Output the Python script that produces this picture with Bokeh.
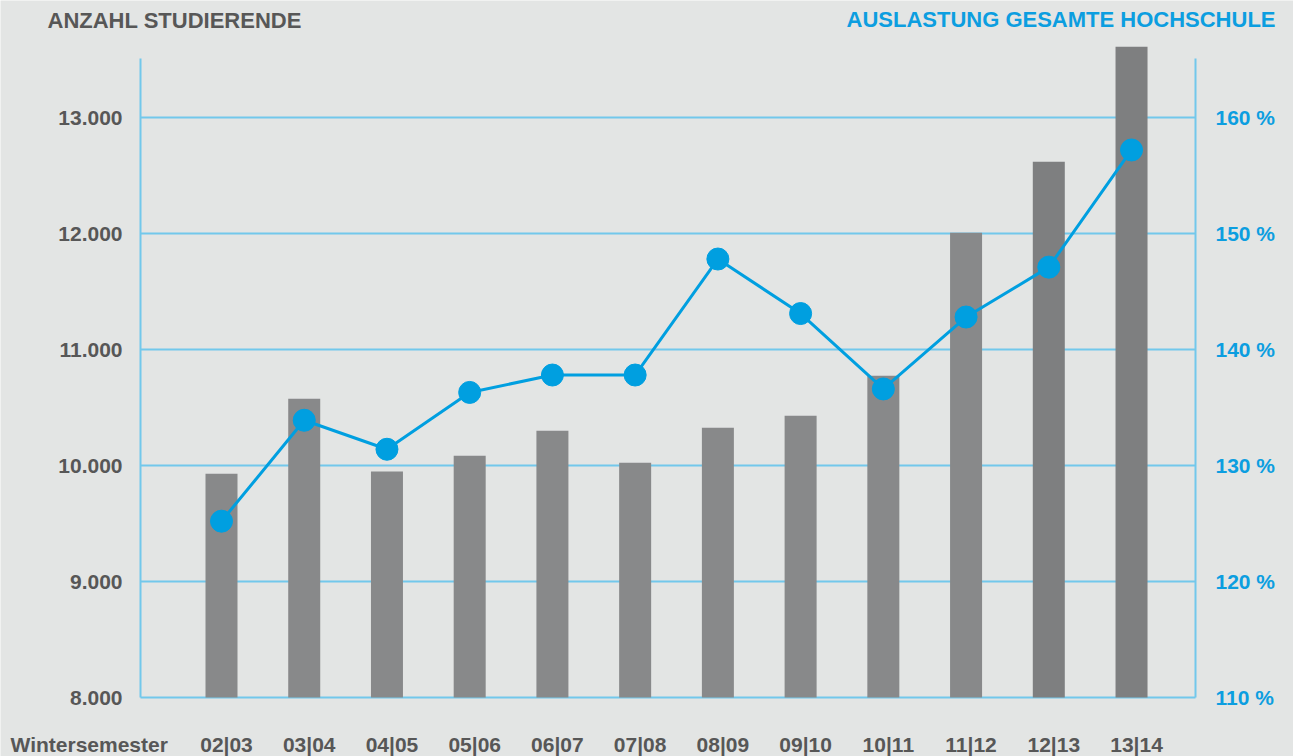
from bokeh.plotting import figure
from bokeh.models import Range1d
from bokeh.core.properties import value
from bokeh.embed import file_html
from bokeh.resources import INLINE

# ---------------- data ----------------
semesters = ["02|03", "03|04", "04|05", "05|06", "06|07", "07|08",
             "08|09", "09|10", "10|11", "11|12", "12|13", "13|14"]
students = [9928, 10575, 9948, 10084, 10299, 10023,
            10325, 10428, 10773, 12006, 12618, 13609]
utilization = [125.2, 133.9, 131.4, 136.3, 137.8, 137.8,
               147.8, 143.1, 136.6, 142.8, 147.1, 157.2]
left_ticks = [8000, 9000, 10000, 11000, 12000, 13000]
left_tick_labels = ["8.000", "9.000", "10.000", "11.000", "12.000", "13.000"]
right_ticks = [110, 120, 130, 140, 150, 160]
right_tick_labels = ["110 %", "120 %", "130 %", "140 %", "150 %", "160 %"]
left_title = "ANZAHL STUDIERENDE"
right_title = "AUSLASTUNG GESAMTE HOCHSCHULE"
x_title = "Wintersemester"

# ---------------- styles ----------------
BG = "#e3e5e4"
GRID = "#72c8eb"
BLUE = "#009fe0"
GRAY_TXT = "#575757"
BLUE_TXT = "#0c9ee0"
bar_colors = ["#88898a"] * 10 + ["#7e7f80"] * 2
FONT = value("Liberation Sans")

# canvas-pixel -> data helpers
X0_PX, DX_PX = 221.0, 82.73        # first bar centre, spacing between bars
Y0_PX, DY_PX = 697.0, 0.116        # y pixel of 8000, pixels per student

def px_x(px):
    return (px - X0_PX) / DX_PX

def px_y(py):
    return 8000 + (Y0_PX - py) / DY_PX

def px_pct(py):
    return 110 + (Y0_PX - py) / (DY_PX * 100)

W, H = 1293, 756
idx = list(range(len(semesters)))

p = figure(width=W, height=H, output_backend="svg", toolbar_location=None,
           x_range=Range1d(px_x(0), px_x(W)),
           y_range=Range1d(px_y(H), px_y(0)),
           x_axis_location=None, y_axis_location=None,
           min_border_left=0, min_border_right=0,
           min_border_top=0, min_border_bottom=0,
           background_fill_color=BG, border_fill_color=BG,
           outline_line_color=None)
p.xgrid.visible = False
p.ygrid.visible = False
p.extra_y_ranges = {"pct": Range1d(px_pct(H), px_pct(0))}

# grid lines and axis lines
xl, xr = px_x(140), px_x(1195)
n = len(left_ticks)
p.segment(x0=[xl] * n, x1=[xr] * n, y0=left_ticks, y1=left_ticks,
          line_color=GRID, line_width=2)
p.segment(x0=[xl, xr], x1=[xl, xr], y0=[left_ticks[0]] * 2,
          y1=[px_y(58)] * 2, line_color=GRID, line_width=2)

# tick labels (left: students, right: utilization)
p.text(x=[px_x(122)] * n, y=left_ticks, text=left_tick_labels,
       text_align="right", text_baseline="middle", text_font=FONT,
       text_font_style="bold", text_font_size="21px", text_color=GRAY_TXT)
p.text(x=[px_x(1215)] * len(right_ticks), y=right_ticks, text=right_tick_labels,
       y_range_name="pct", text_align="left", text_baseline="middle",
       text_font=FONT, text_font_style="bold", text_font_size="21px",
       text_color=BLUE_TXT)

# bars
p.vbar(x=idx, top=students, bottom=left_ticks[0], width=32 / DX_PX,
       fill_color=bar_colors, line_color=None)

# utilization line
p.line(idx, utilization, y_range_name="pct", line_color=BLUE, line_width=3)
p.scatter(idx, utilization, y_range_name="pct", size=22,
          fill_color=BLUE, line_color=BLUE)

# titles
p.text(x=[px_x(47)], y=[px_y(19.5)], text=[left_title],
       text_align="left", text_baseline="middle", text_font=FONT,
       text_font_style="bold", text_font_size="22px", text_color=GRAY_TXT)
p.text(x=[px_x(1275)], y=[px_y(18.5)], text=[right_title],
       text_align="right", text_baseline="middle", text_font=FONT,
       text_font_style="bold", text_font_size="22px", text_color=BLUE_TXT)

# x labels
ylab = px_y(744)
p.text(x=[px_x(10)], y=[ylab], text=[x_title],
       text_align="left", text_baseline="middle", text_font=FONT,
       text_font_style="bold", text_font_size="21px", text_color=GRAY_TXT)
p.text(x=idx, y=[ylab] * len(idx), text=semesters, x_offset=5,
       text_align="center", text_baseline="middle", text_font=FONT,
       text_font_style="bold", text_font_size="21px", text_color=GRAY_TXT)

open("out.html", "w").write(file_html(p, INLINE))
